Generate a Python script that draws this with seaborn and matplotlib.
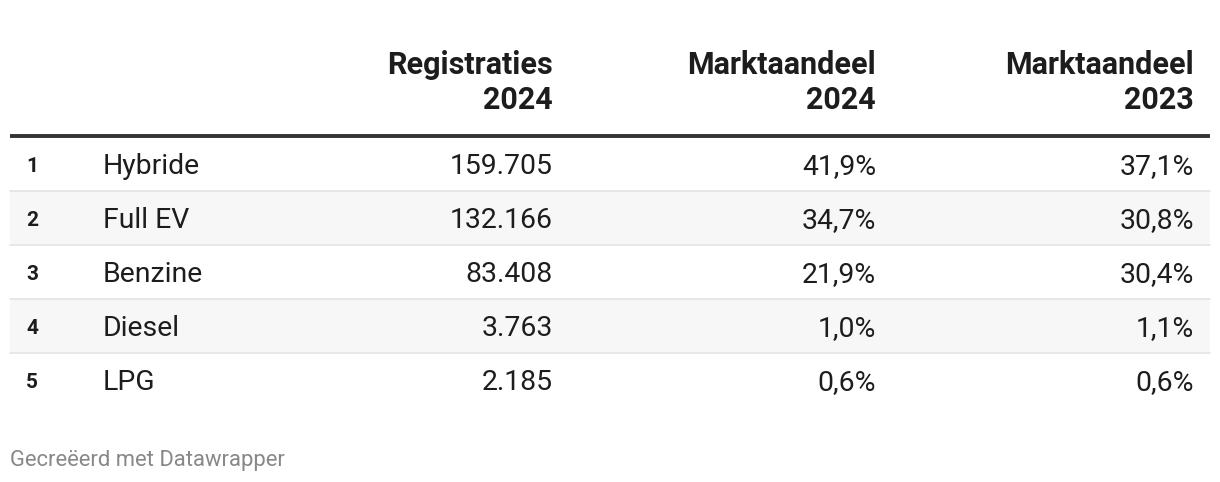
import matplotlib
matplotlib.use("Agg")
import matplotlib.pyplot as plt
import seaborn as sns

sns.set_theme(style="white")
plt.rcParams['font.family'] = ['Roboto', 'DejaVu Sans']

# table data
ranks = [1, 2, 3, 4, 5]
fuels = ['Hybride', 'Full EV', 'Benzine', 'Diesel', 'LPG']
registraties_2024 = [159705, 132166, 83408, 3763, 2185]
aandeel_2024 = [41.9, 34.7, 21.9, 1.0, 0.6]
aandeel_2023 = [37.1, 30.8, 30.4, 1.1, 0.6]
headers = ['Registraties\n2024', 'Marktaandeel\n2024', 'Marktaandeel\n2023']


def fmt_int(v):
    return f'{v:,}'.replace(',', '.')


def fmt_pct(v):
    return f'{v:.1f}%'.replace('.', ',')


fig = plt.figure(figsize=(12.2, 4.82), dpi=100)
ax = fig.add_axes([0, 0, 1, 1])
ax.set_xlim(0, 1220)
ax.set_ylim(482, 0)
ax.axis('off')

text_col = '#1d1d1d'
col_right = [553, 876, 1194]
row_top = 137
row_h = 54

# header
for x, h in zip(col_right, headers):
    l1, l2 = h.split('\n')
    ax.text(x, 74, l1, ha='right', va='baseline', fontsize=22,
            fontweight='bold', color=text_col)
    ax.text(x, 109, l2, ha='right', va='baseline', fontsize=22,
            fontweight='bold', color=text_col)
ax.plot([10, 1210], [135.5, 135.5], color='#333333', lw=2.8,
        solid_capstyle='butt')

# rows
for i, (r, f, reg, a24, a23) in enumerate(zip(ranks, fuels, registraties_2024,
                                               aandeel_2024, aandeel_2023)):
    top = row_top + i * row_h
    if i % 2 == 1:
        ax.axhspan(top, top + row_h - 1, xmin=10 / 1220, xmax=1210 / 1220,
                   color='#f7f7f7', lw=0, zorder=0)
    if i < len(ranks) - 1:
        ax.plot([10, 1210], [top + row_h - 0.5] * 2, color='#e3e3e3', lw=1.2,
                zorder=1)
    base = top + 37
    ax.text(32, base - 2, str(r), ha='center', va='baseline', fontsize=15,
            fontweight='bold', color=text_col)
    ax.text(103, base, f, ha='left', va='baseline', fontsize=20.4,
            color=text_col)
    vals = [fmt_int(reg), fmt_pct(a24), fmt_pct(a23)]
    for x, v in zip(col_right, vals):
        ax.text(x, base, v, ha='right', va='baseline', fontsize=20.4,
                color=text_col)

ax.text(10, 466, 'Gecreëerd met Datawrapper', ha='left', va='baseline',
        fontsize=15.8, color='#888888')

fig.savefig('out.png', dpi=100, facecolor='white')
